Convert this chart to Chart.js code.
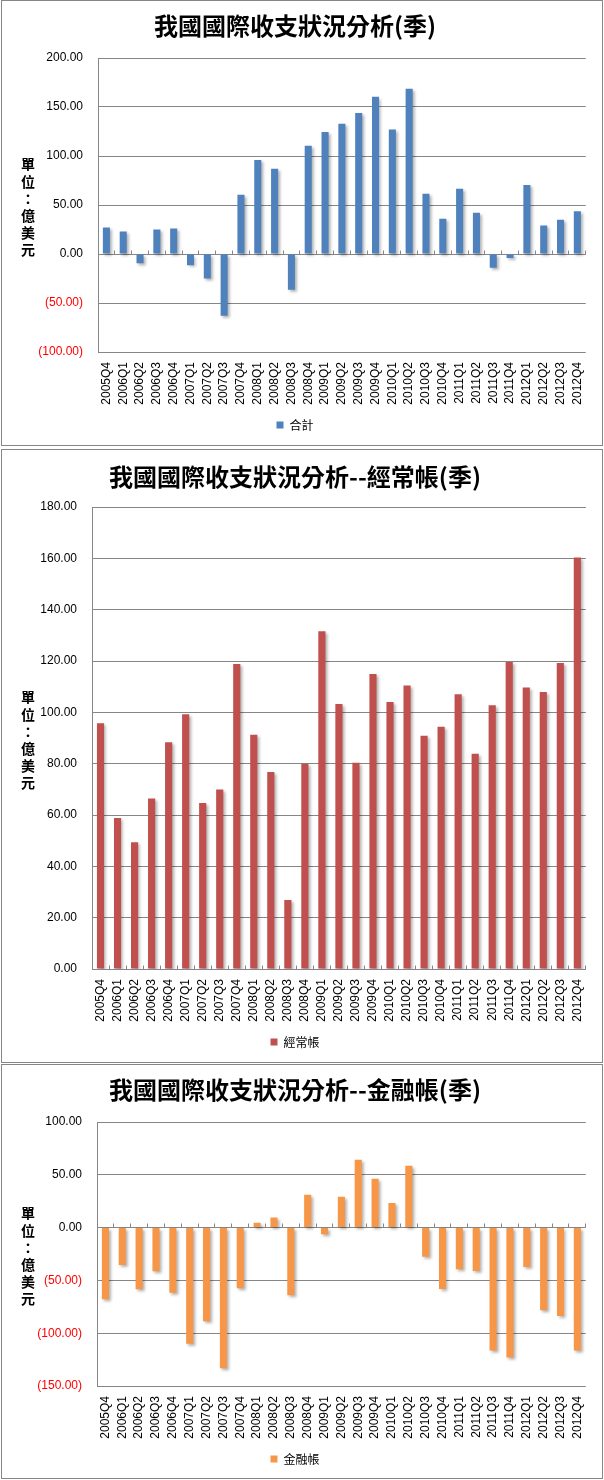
<!DOCTYPE html>
<html>
<head>
<meta charset="utf-8">
<title>我國國際收支狀況分析</title>
<script src="https://cdn.jsdelivr.net/npm/chart.js"></script>
<style>
  body { margin: 0; background: #fff; width: 604px; height: 1480px; position: relative; }
  .box { position: absolute; left: 1px; width: 602px; box-sizing: border-box; border: 1px solid #868686; background: #fff; }
  .box canvas { display: block; }
</style>
</head>
<body>
<div class="box" style="top:0px;height:446px"><canvas id="totalChart" width="600" height="444"></canvas></div>
<div class="box" style="top:449px;height:614px"><canvas id="currentChart" width="600" height="612"></canvas></div>
<div class="box" style="top:1064px;height:415px"><canvas id="financialChart" width="600" height="413"></canvas></div>
<script>
// 季別
const quarters = ['2005Q4',
    '2006Q1', '2006Q2', '2006Q3', '2006Q4',
    '2007Q1', '2007Q2', '2007Q3', '2007Q4',
    '2008Q1', '2008Q2', '2008Q3', '2008Q4',
    '2009Q1', '2009Q2', '2009Q3', '2009Q4',
    '2010Q1', '2010Q2', '2010Q3', '2010Q4',
    '2011Q1', '2011Q2', '2011Q3', '2011Q4',
    '2012Q1', '2012Q2', '2012Q3', '2012Q4'];

// 合計 (億美元)
const totalValues = [27, 23, -9.5, 25, 26, -11.5, -25, -63, 60.5, 96, 87, -36.5, 110.5,
    124.5, 133, 144, 160.5, 127, 168.5, 61.5, 36, 66.5, 42, -14, -4, 70.5, 29, 35, 43.5];

// 經常帳
const currentValues = [95.7, 58.8, 49.4, 66.4, 88.3, 99.3, 64.7, 69.9, 118.8, 91.3, 76.8, 26.9, 80,
    131.6, 103.2, 80.4, 114.9, 104, 110.5, 90.9, 94.4, 107, 83.9, 102.8, 119.6, 109.7, 107.9, 119.2, 160.3];

// 金融帳
const financialValues = [-67.8, -35.3, -58.3, -41.3, -61.8, -110.1, -88.6, -133.3, -57.4, 4.5, 9.5, -64, 31,
    -6.3, 29.1, 64.2, 46.2, 23.4, 58.5, -27.5, -58.1, -39.4, -41, -116.5, -123.1, -37.2, -78.2, -83.6, -116.5];

// y 軸刻度範圍 [min, max, step]
const totalAxis = [-100, 200, 50];
const currentAxis = [0, 180, 20];
const financialAxis = [-150, 100, 50];

const unitChars = ['單', '位', '：', '億', '美', '元'];

// 柱狀陰影
const barShadow = {
    id: 'barShadow',
    beforeDatasetsDraw(chart) {
        const ctx = chart.ctx;
        ctx.save();
        ctx.shadowColor = 'rgba(0, 0, 0, 0.3)';
        ctx.shadowBlur = 3;
        ctx.shadowOffsetX = 2;
        ctx.shadowOffsetY = 2;
    },
    afterDatasetsDraw(chart) {
        chart.ctx.restore();
    }
};

// 零線上的分類刻度
const zeroTicks = {
    id: 'zeroTicks',
    afterDraw(chart) {
        const {ctx, chartArea, scales} = chart;
        const y0 = Math.round(scales.y.getPixelForValue(0) - 0.5) + 0.5;
        const n = chart.data.labels.length;
        const w = (chartArea.right - chartArea.left) / n;
        ctx.save();
        ctx.strokeStyle = '#868686';
        ctx.lineWidth = 1;
        ctx.beginPath();
        for (let i = 0; i <= n; i++) {
            const x = Math.round(chartArea.left + i * w - 0.5) + 0.5;
            ctx.moveTo(x, y0 - 4);
            ctx.lineTo(x, y0);
        }
        ctx.stroke();
        ctx.restore();
    }
};

// 直排的單位標題
const unitTitle = {
    id: 'unitTitle',
    afterDraw(chart) {
        const {ctx, chartArea} = chart;
        const mid = (chartArea.top + chartArea.bottom) / 2 + 2;
        ctx.save();
        ctx.font = "bold 14px 'Noto Sans CJK TC'";
        ctx.fillStyle = '#000';
        ctx.textAlign = 'center';
        ctx.textBaseline = 'middle';
        unitChars.forEach((c, i) => ctx.fillText(c, 26, mid + (i - 2.5) * 17.2));
        ctx.restore();
    }
};

function tickText(v) {
    return v < 0 ? '(' + Math.abs(v).toFixed(2) + ')' : v.toFixed(2);
}

function tickColor(c) {
    return c.tick && c.tick.value < 0 ? '#FF0000' : '#000000';
}

function chartOptions(title, titlePad, axis, yWidth, bottomPad) {
    return {
        responsive: false,
        animation: false,
        devicePixelRatio: 1,
        layout: { padding: { left: 0, right: 14, top: 0, bottom: bottomPad } },
        scales: {
            x: {
                ticks: {
                    minRotation: 90,
                    maxRotation: 90,
                    autoSkip: false,
                    padding: 10,
                    color: '#000',
                    font: { size: 12, family: 'Liberation Sans' }
                },
                grid: { display: false, drawTicks: false },
                border: { display: false },
                afterFit: (s) => { s.height = 57; }
            },
            y: {
                min: axis[0],
                max: axis[1],
                ticks: {
                    stepSize: axis[2],
                    padding: 15,
                    color: tickColor,
                    font: { size: 12, family: 'Liberation Sans' },
                    callback: tickText
                },
                grid: { color: '#868686', drawTicks: false },
                border: { display: true, color: '#868686' },
                afterFit: (s) => { s.width = yWidth; }
            }
        },
        plugins: {
            title: {
                display: true,
                text: title,
                color: '#000',
                font: { size: 24, weight: 'bold', family: "'Noto Sans CJK TC'" },
                padding: titlePad
            },
            legend: {
                position: 'bottom',
                labels: {
                    boxWidth: 7,
                    boxHeight: 7,
                    padding: 10,
                    color: '#000',
                    font: { size: 12, family: "'Noto Sans CJK TC'" }
                }
            },
            tooltip: { enabled: false }
        }
    };
}

document.addEventListener('DOMContentLoaded', function () {
    // 合計
    new Chart(document.getElementById('totalChart'), {
        type: 'bar',
        data: {
            labels: quarters,
            datasets: [{
                label: '合計',
                data: totalValues,
                backgroundColor: '#4F81BD',
                borderWidth: 0,
                categoryPercentage: 1,
                barPercentage: 0.42
            }]
        },
        options: chartOptions('我國國際收支狀況分析(季)', { top: 10.6, bottom: 17.6 }, totalAxis, 96, 4),
        plugins: [barShadow, zeroTicks, unitTitle]
    });

    // 經常帳
    new Chart(document.getElementById('currentChart'), {
        type: 'bar',
        data: {
            labels: quarters,
            datasets: [{
                label: '經常帳',
                data: currentValues,
                backgroundColor: '#C0504D',
                borderWidth: 0,
                categoryPercentage: 1,
                barPercentage: 0.42
            }]
        },
        options: chartOptions('我國國際收支狀況分析--經常帳(季)', { top: 12.6, bottom: 15.6 }, currentAxis, 90, 4),
        plugins: [barShadow, zeroTicks, unitTitle]
    });

    // 金融帳
    new Chart(document.getElementById('financialChart'), {
        type: 'bar',
        data: {
            labels: quarters,
            datasets: [{
                label: '金融帳',
                data: financialValues,
                backgroundColor: '#F79646',
                borderWidth: 0,
                categoryPercentage: 1,
                barPercentage: 0.42
            }]
        },
        options: chartOptions('我國國際收支狀況分析--金融帳(季)', { top: 10.6, bottom: 17.6 }, financialAxis, 95, 3),
        plugins: [barShadow, zeroTicks, unitTitle]
    });
});
</script>
</body>
</html>
